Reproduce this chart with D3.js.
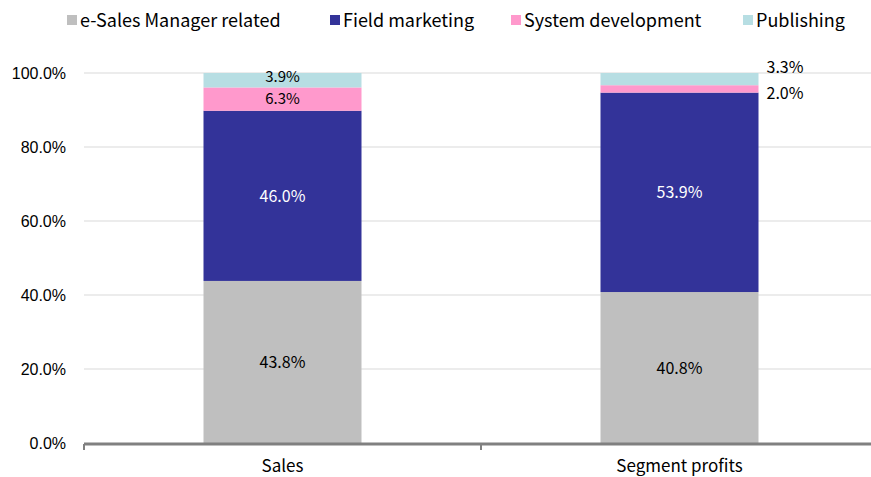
<!DOCTYPE html>
<html><head><meta charset="utf-8">
<script src="https://cdn.jsdelivr.net/npm/d3@7"></script>
<style>body{margin:0;background:#fff}svg{display:block}</style>
</head><body>
<svg id="c" width="871" height="477"></svg>
<script>
const categories = ["Sales", "Segment profits"];
const seriesNames = ["e-Sales Manager related", "Field marketing", "System development", "Publishing"];
const esales = [43.8, 40.8];
const field = [46.0, 53.9];
const system = [6.3, 2.0];
const publishing = [3.9, 3.3];
const yTicks = [0, 20, 40, 60, 80, 100];
const colors = ["#bfbfbf", "#333399", "#ff99cc", "#b7dee3"];

const svg = d3.select("#c");
const jp = "'Noto Sans CJK JP', sans-serif";
const x = d3.scaleBand().domain(categories).range([84, 878]).paddingInner(0).paddingOuter(0);
const y = d3.scaleLinear().domain([0, 100]).range([443, 73]);
const barW = 158;

// gridlines
svg.append("g").selectAll("line").data(yTicks.filter(d => d > 0)).join("line")
  .attr("x1", 84).attr("x2", 871).attr("y1", d => y(d)).attr("y2", d => y(d))
  .attr("stroke", "#d9d9d9").attr("stroke-width", 1);

// y tick labels
svg.append("g").selectAll("text").data(yTicks).join("text")
  .attr("x", 66).attr("y", d => y(d) + 6).attr("text-anchor", "end")
  .attr("font-family", "'Liberation Sans', Arial, sans-serif").attr("font-size", 16).attr("fill", "#000")
  .text(d => d.toFixed(1) + "%");

const seriesData = [esales, field, system, publishing];
const rows = categories.map((c, i) => {
  const o = {cat: c};
  seriesNames.forEach((s, j) => o[s] = seriesData[j][i]);
  return o;
});
const stack = d3.stack().keys(seriesNames)(rows);

const g = svg.append("g");
stack.forEach((layer, j) => {
  g.selectAll(null).data(layer).join("rect")
    .attr("x", d => x(d.data.cat) + (x.bandwidth() - barW) / 2)
    .attr("width", barW)
    .attr("y", d => y(d[1]))
    .attr("height", d => y(d[0]) - y(d[1]))
    .attr("fill", colors[j]);
});

// axis line
svg.append("line").attr("x1", 84).attr("x2", 871).attr("y1", 444).attr("y2", 444)
  .attr("stroke", "#808080").attr("stroke-width", 3);
svg.append("g").selectAll("line").data([84, 481]).join("line")
  .attr("x1", d => d).attr("x2", d => d).attr("y1", 444).attr("y2", 450)
  .attr("stroke", "#808080").attr("stroke-width", 2);

// category labels
svg.append("g").selectAll("text").data(categories).join("text")
  .attr("x", d => x(d) + x.bandwidth() / 2).attr("y", 472).attr("text-anchor", "middle")
  .attr("font-family", jp).attr("font-size", 17).attr("fill", "#000")
  .text(d => d);

// data labels
const lab = svg.append("g").attr("font-family", jp).attr("font-size", 16);
stack.forEach((layer, j) => {
  layer.forEach((d, i) => {
    const v = d[1] - d[0];
    const cx = x(d.data.cat) + x.bandwidth() / 2;
    let tx = cx, ty = (y(d[0]) + y(d[1])) / 2 + 6, anchor = "middle", fs = 16;
    if (i === 0 && j === 3) { ty = 82; fs = 15; }
    if (i === 0 && j === 2) { ty = 104; fs = 15; }
    if (i === 1 && j >= 2) {
      tx = x(d.data.cat) + (x.bandwidth() + barW) / 2 + 8;
      anchor = "start";
      ty = j === 3 ? 73 : 99;
    }
    lab.append("text").attr("x", tx).attr("y", ty).attr("text-anchor", anchor)
      .attr("font-size", fs)
      .attr("fill", j === 1 ? "#fff" : "#000").text(v.toFixed(1) + "%");
  });
});

// legend
const legX = [67, 330, 511, 743];
const leg = svg.append("g").attr("font-family", jp).attr("font-size", 18);
seriesNames.forEach((s, j) => {
  leg.append("rect").attr("x", legX[j]).attr("y", 15).attr("width", 10).attr("height", 10).attr("fill", colors[j]);
  leg.append("text").attr("x", legX[j] + 13).attr("y", 27).attr("fill", "#000").text(s);
});
</script>
</body></html>
